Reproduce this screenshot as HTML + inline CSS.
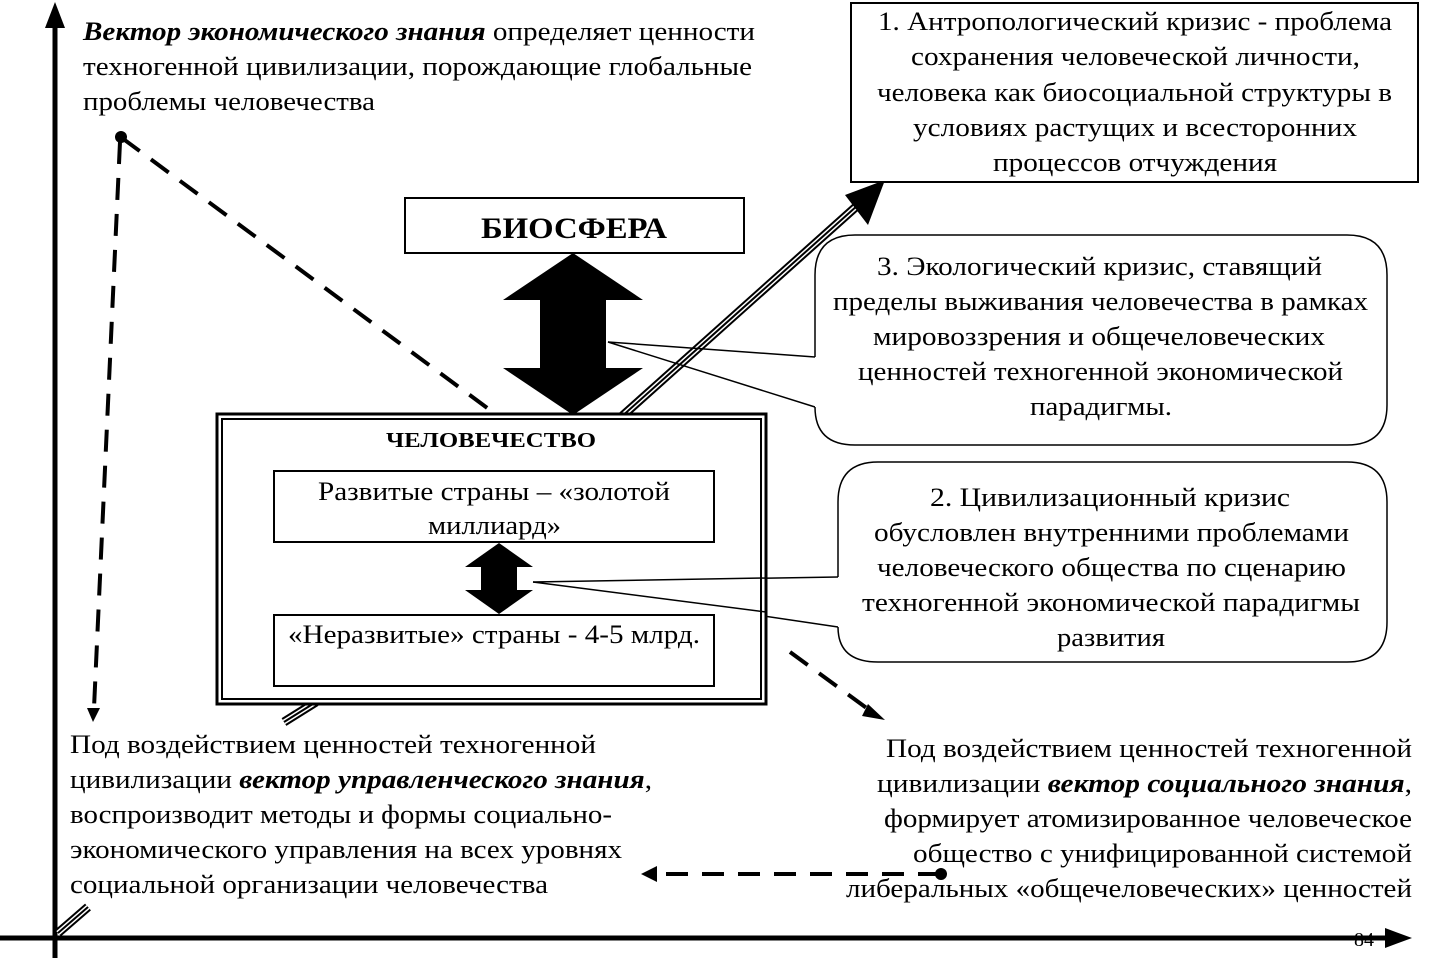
<!DOCTYPE html>
<html><head><meta charset="utf-8"><style>
html,body{margin:0;padding:0;background:#fff}
svg{display:block}
text{font-family:"Liberation Serif",serif;font-size:26px;fill:#000}
</style></head><body>
<svg width="1429" height="958" viewBox="0 0 1429 958" xmlns="http://www.w3.org/2000/svg">
<!-- axes -->
<line x1="55" y1="20" x2="55" y2="958" stroke="#000" stroke-width="5"/>
<path d="M45,28 L55,2 L65,28z" fill="#000"/>
<line x1="0" y1="938" x2="1395" y2="938" stroke="#000" stroke-width="5"/>
<path d="M1385,928 L1412,938 L1385,948z" fill="#000"/>
<text x="1354" y="946" style="font-size:20px">84</text>

<!-- triple line segments -->
<g>
<g stroke="#000" stroke-width="9"><line x1="58" y1="933" x2="88" y2="907"/><line x1="284" y1="722" x2="316" y2="702"/><line x1="620" y1="418" x2="858" y2="205"/></g>
<g stroke="#fff" stroke-width="5"><line x1="58" y1="933" x2="88" y2="907"/><line x1="284" y1="722" x2="316" y2="702"/><line x1="620" y1="418" x2="858" y2="205"/></g>
<g stroke="#000" stroke-width="2"><line x1="58" y1="933" x2="88" y2="907"/><line x1="284" y1="722" x2="316" y2="702"/><line x1="620" y1="418" x2="858" y2="205"/></g>
<path d="M885,180 L845,195 L868,225z" fill="#000"/>
</g>

<!-- dashed lines -->
<g stroke="#000" stroke-width="4" stroke-dasharray="22,14" fill="none">
<line x1="122" y1="138" x2="490" y2="410"/>
<line x1="120" y1="142" x2="94" y2="708"/>
<line x1="790" y1="652" x2="872" y2="712"/>
<line x1="940" y1="874" x2="655" y2="874"/>
</g>
<circle cx="121" cy="137" r="6" fill="#000"/>
<circle cx="941" cy="874" r="6" fill="#000"/>
<path d="M87,708 L93,722 L100,708z" fill="#000"/>
<path d="M868,704 L885,720 L862,716z" fill="#000"/>
<path d="M657,866 L641,874 L657,882z" fill="#000"/>

<!-- callout lines -->
<g stroke="#000" stroke-width="1.5" fill="none">
<polyline points="815,357 608,342 815,407"/>
<polyline points="838,577 533,582 838,627"/>
</g>

<!-- biosphere -->
<rect x="405" y="198" width="339" height="55" fill="#fff" stroke="#000" stroke-width="2"/>
<text x="481" y="238" textLength="186" lengthAdjust="spacingAndGlyphs" style="font-size:30px;font-weight:bold">БИОСФЕРА</text>
<path d="M573,253 L643,300 L606,300 L606,368 L643,368 L573,415 L503,368 L540,368 L540,300 L503,300z" fill="#000"/>

<!-- humanity -->
<rect x="217" y="414" width="549" height="290" fill="#fff" stroke="#000" stroke-width="3"/>
<rect x="222" y="419" width="539" height="280" fill="none" stroke="#000" stroke-width="2"/>
<text x="386" y="447" textLength="210" lengthAdjust="spacingAndGlyphs" style="font-size:21px;font-weight:bold">ЧЕЛОВЕЧЕСТВО</text>
<rect x="274" y="471" width="440" height="71" fill="#fff" stroke="#000" stroke-width="2"/>
<text x="318" y="500" textLength="352" lengthAdjust="spacingAndGlyphs">Развитые страны – «золотой</text>
<text x="428" y="534" textLength="133" lengthAdjust="spacingAndGlyphs">миллиард»</text>
<path d="M499,543 L533,567 L517,567 L517,590 L533,590 L499,614 L465,590 L481,590 L481,567 L465,567z" fill="#000"/>
<line x1="533" y1="582" x2="766" y2="578" stroke="#000" stroke-width="1.5"/>
<line x1="533" y1="582" x2="766" y2="612" stroke="#000" stroke-width="1.5"/>
<rect x="274" y="615" width="440" height="71" fill="#fff" stroke="#000" stroke-width="2"/>
<text x="288" y="643" textLength="412" lengthAdjust="spacingAndGlyphs">«Неразвитые» страны - 4-5 млрд.</text>

<!-- box 1 -->
<rect x="851" y="3" width="567" height="179" fill="#fff" stroke="#000" stroke-width="2"/>
<text x="878" y="30" textLength="514" lengthAdjust="spacingAndGlyphs">1. Антропологический кризис - проблема</text>
<text x="911" y="65" textLength="449" lengthAdjust="spacingAndGlyphs">сохранения человеческой личности,</text>
<text x="877" y="101" textLength="515" lengthAdjust="spacingAndGlyphs">человека как биосоциальной структуры в</text>
<text x="913" y="136" textLength="444" lengthAdjust="spacingAndGlyphs">условиях растущих и всесторонних</text>
<text x="993" y="171" textLength="284" lengthAdjust="spacingAndGlyphs">процессов отчуждения</text>

<!-- box 3 -->
<path d="M815,357 L815,275 Q815,235 855,235 L1347,235 Q1387,235 1387,275 L1387,405 Q1387,445 1347,445 L855,445 Q815,445 815,407" fill="#fff" stroke="#000" stroke-width="1.5"/>
<text x="877" y="275" textLength="445" lengthAdjust="spacingAndGlyphs">3. Экологический кризис, ставящий</text>
<text x="833" y="310" textLength="535" lengthAdjust="spacingAndGlyphs">пределы выживания человечества в рамках</text>
<text x="873" y="345" textLength="452" lengthAdjust="spacingAndGlyphs">мировоззрения и общечеловеческих</text>
<text x="858" y="380" textLength="485" lengthAdjust="spacingAndGlyphs">ценностей техногенной экономической</text>
<text x="1030" y="415" textLength="142" lengthAdjust="spacingAndGlyphs">парадигмы.</text>

<!-- box 2 -->
<path d="M838,577 L838,502 Q838,462 878,462 L1347,462 Q1387,462 1387,502 L1387,622 Q1387,662 1347,662 L878,662 Q838,662 838,627" fill="#fff" stroke="#000" stroke-width="1.5"/>
<text x="930" y="506" textLength="360" lengthAdjust="spacingAndGlyphs">2. Цивилизационный кризис</text>
<text x="874" y="541" textLength="475" lengthAdjust="spacingAndGlyphs">обусловлен внутренними проблемами</text>
<text x="877" y="576" textLength="469" lengthAdjust="spacingAndGlyphs">человеческого общества по сценарию</text>
<text x="862" y="611" textLength="498" lengthAdjust="spacingAndGlyphs">техногенной экономической парадигмы</text>
<text x="1057" y="646" textLength="108" lengthAdjust="spacingAndGlyphs">развития</text>

<!-- top-left text -->
<text x="83" y="40" textLength="672" lengthAdjust="spacingAndGlyphs"><tspan font-weight="bold" font-style="italic">Вектор экономического знания</tspan> определяет ценности</text>
<text x="83" y="75" textLength="669" lengthAdjust="spacingAndGlyphs">техногенной цивилизации, порождающие глобальные</text>
<text x="83" y="110" textLength="292" lengthAdjust="spacingAndGlyphs">проблемы человечества</text>

<!-- bottom-left text -->
<text x="70" y="753" textLength="526" lengthAdjust="spacingAndGlyphs">Под воздействием ценностей техногенной</text>
<text x="70" y="788" textLength="582" lengthAdjust="spacingAndGlyphs">цивилизации <tspan font-weight="bold" font-style="italic">вектор управленческого знания</tspan>,</text>
<text x="70" y="823" textLength="542" lengthAdjust="spacingAndGlyphs">воспроизводит методы и формы социально-</text>
<text x="70" y="858" textLength="552" lengthAdjust="spacingAndGlyphs">экономического управления на всех уровнях</text>
<text x="70" y="893" textLength="478" lengthAdjust="spacingAndGlyphs">социальной организации человечества</text>

<!-- bottom-right text -->
<text x="886" y="757" textLength="526" lengthAdjust="spacingAndGlyphs">Под воздействием ценностей техногенной</text>
<text x="877" y="792" textLength="535" lengthAdjust="spacingAndGlyphs">цивилизации <tspan font-weight="bold" font-style="italic">вектор социального  знания</tspan>,</text>
<text x="884" y="827" textLength="528" lengthAdjust="spacingAndGlyphs">формирует атомизированное человеческое</text>
<text x="913" y="862" textLength="499" lengthAdjust="spacingAndGlyphs">общество с унифицированной системой</text>
<text x="846" y="897" textLength="566" lengthAdjust="spacingAndGlyphs">либеральных «общечеловеческих» ценностей</text>
</svg>
</body></html>
